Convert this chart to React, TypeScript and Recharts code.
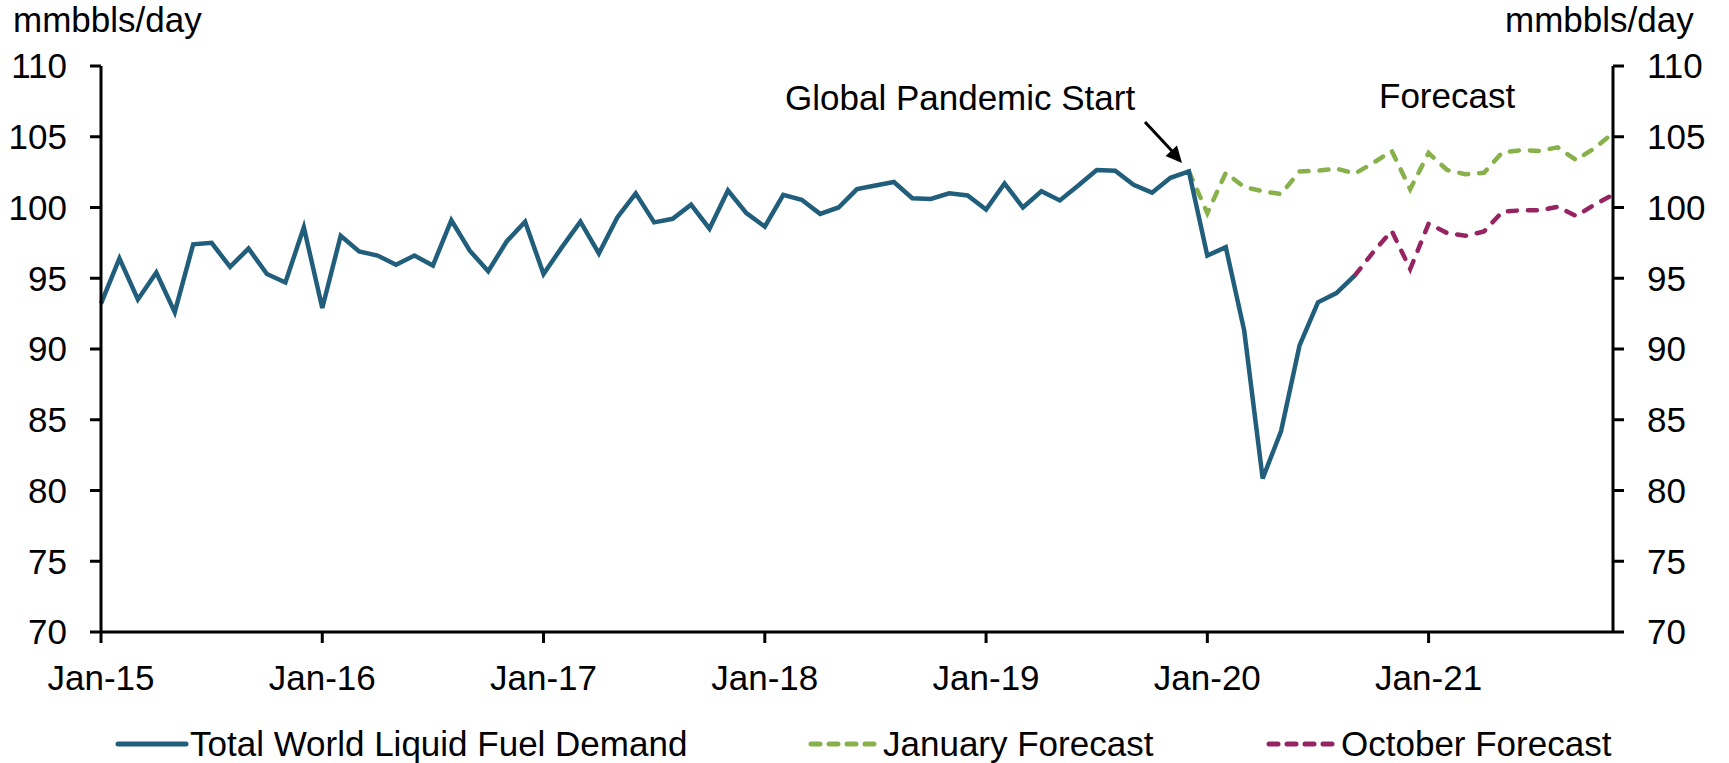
import { LineChart, Line, XAxis, YAxis, Legend } from 'recharts';

const FONT = "'Liberation Sans', Arial, sans-serif";
const BLUE = '#215E7B';
const GREEN = '#88B04B';
const PURPLE = '#962462';

const YEARS = ['15', '16', '17', '18', '19', '20', '21'];
const MONTHS = ['Jan', 'Feb', 'Mar', 'Apr', 'May', 'Jun', 'Jul', 'Aug', 'Sep', 'Oct', 'Nov', 'Dec'];
const Y_TICKS = [70, 75, 80, 85, 90, 95, 100, 105, 110];

// Jan-15 .. Sep-20
const demand = [
  93.2, 96.4, 93.5, 95.4, 92.6, 97.4, 97.5, 95.8, 97.1, 95.3, 94.7, 98.6,
  92.9, 98.0, 96.9, 96.6, 95.95, 96.6, 95.9, 99.1, 96.95, 95.5, 97.6, 99.0,
  95.3, 97.2, 99.0, 96.75, 99.3, 101.0, 98.95, 99.2, 100.2, 98.5, 101.2, 99.6,
  98.65, 100.9, 100.55, 99.55, 100.0, 101.3, 101.55, 101.8, 100.65, 100.6, 101.0, 100.85,
  99.85, 101.7, 100.0, 101.15, 100.5, 101.55, 102.65, 102.6, 101.6, 101.05, 102.1, 102.55,
  96.6, 97.2, 91.3, 80.85, 84.2, 90.25, 93.3, 93.95, 95.2,
];

// Dec-19 .. Nov-21
const janForecast = [
  102.55, 99.6, 102.45, 101.45, 101.15, 100.95, 102.55, 102.6, 102.75, 102.4, 103.15, 104.0,
  101.3, 103.85, 102.65, 102.35, 102.45, 103.9, 104.05, 104.0, 104.25, 103.35, 104.2, 105.25,
];

// Sep-20 .. Nov-21
const octForecast = [
  95.2, 96.85, 98.35, 95.65, 98.85, 98.2, 98.0, 98.3, 99.7, 99.8, 99.8, 100.05, 99.4, 100.2, 100.9,
];

const JAN_START = 59;
const OCT_START = 68;
const N_POINTS = 83;

const months: string[] = [];
YEARS.forEach((y) => MONTHS.forEach((m) => months.push(`${m}-${y}`)));

const data = months.slice(0, N_POINTS).map((month, i) => ({
  month,
  demand: demand[i] ?? null,
  jan: i >= JAN_START ? janForecast[i - JAN_START] ?? null : null,
  oct: i >= OCT_START ? octForecast[i - OCT_START] ?? null : null,
}));

const legendItems = [
  { label: 'Total World Liquid Fuel Demand', color: BLUE, dashed: false, x: 114 },
  { label: 'January Forecast', color: GREEN, dashed: true, x: 807 },
  { label: 'October Forecast', color: PURPLE, dashed: true, x: 1265 },
];

const renderLegend = () => (
  <div style={{ position: 'relative', width: 1729, height: 44, fontFamily: FONT, fontSize: 35, color: '#000' }}>
    {legendItems.map((it) => (
      <div key={it.label} style={{ position: 'absolute', left: it.x, top: 0, height: 44, display: 'flex', alignItems: 'center' }}>
        <svg width={76} height={44}>
          <line
            x1={4}
            x2={72}
            y1={22}
            y2={22}
            stroke={it.color}
            strokeWidth={5}
            strokeLinecap="round"
            strokeDasharray={it.dashed ? '9 9' : undefined}
          />
        </svg>
        <span style={{ lineHeight: '44px', whiteSpace: 'nowrap' }}>{it.label}</span>
      </div>
    ))}
  </div>
);

const axisStyle = { stroke: '#000', strokeWidth: 3 };
const tickStyle = { fontSize: 35, fill: '#000', fontFamily: FONT };

export default function App() {
  return (
    <div style={{ position: 'absolute', left: 0, top: 0, width: 1729, height: 763, background: '#fff', fontFamily: FONT }}>
      <LineChart width={1729} height={763} data={data} margin={{ top: 66, right: 36, left: 21, bottom: 0 }}>
        <XAxis
          dataKey="month"
          interval={11}
          height={87}
          tickSize={11}
          tickMargin={22}
          axisLine={axisStyle}
          tickLine={axisStyle}
          tick={tickStyle}
        />
        <YAxis
          yAxisId="left"
          domain={[70, 110]}
          ticks={Y_TICKS}
          width={80}
          tickSize={11}
          tickMargin={23}
          axisLine={axisStyle}
          tickLine={axisStyle}
          tick={tickStyle}
        />
        <YAxis
          yAxisId="right"
          orientation="right"
          domain={[70, 110]}
          ticks={Y_TICKS}
          width={80}
          tickSize={11}
          tickMargin={23}
          axisLine={axisStyle}
          tickLine={axisStyle}
          tick={tickStyle}
        />
        <Legend
          verticalAlign="bottom"
          content={renderLegend}
          wrapperStyle={{ top: 722, left: 0, bottom: 'auto', width: 1729, height: 44 }}
        />
        <Line yAxisId="left" type="linear" dataKey="jan" stroke={GREEN} strokeWidth={4.5} strokeDasharray="9 11" strokeLinecap="round" dot={false} isAnimationActive={false} />
        <Line yAxisId="right" type="linear" dataKey="oct" stroke={PURPLE} strokeWidth={4.5} strokeDasharray="9 11" strokeLinecap="round" dot={false} isAnimationActive={false} />
        <Line yAxisId="left" type="linear" dataKey="demand" stroke={BLUE} strokeWidth={4.5} dot={false} isAnimationActive={false} />
      </LineChart>
      <svg width={1729} height={763} style={{ position: 'absolute', left: 0, top: 0, pointerEvents: 'none' }}>
        <g fontFamily={FONT} fontSize={35} fill="#000">
          <text x={13} y={32}>mmbbls/day</text>
          <text x={1505} y={32}>mmbbls/day</text>
          <text x={785} y={110}>Global Pandemic Start</text>
          <text x={1379} y={108}>Forecast</text>
        </g>
        <line x1={1145} y1={122} x2={1172} y2={151} stroke="#000" strokeWidth={3} />
        <polygon points="1182,163 1165.5,156 1177,145.5" fill="#000" />
      </svg>
    </div>
  );
}
